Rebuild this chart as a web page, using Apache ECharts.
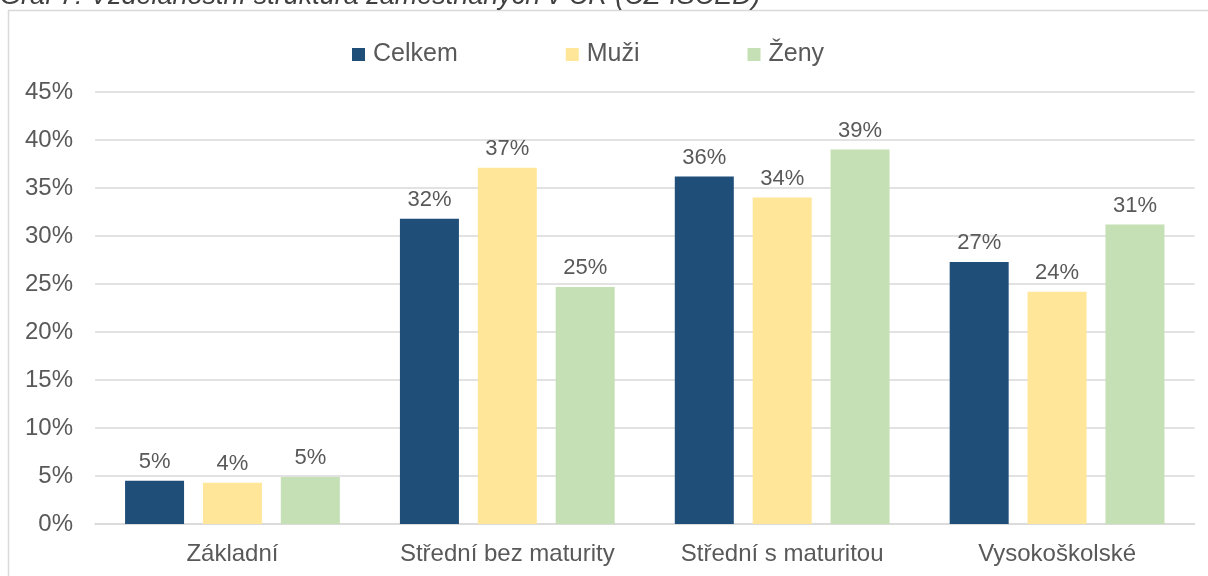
<!DOCTYPE html>
<html>
<head>
<meta charset="utf-8">
<script src="https://cdn.jsdelivr.net/npm/echarts@6/dist/echarts.min.js"></script>
<style>
  html, body { margin: 0; padding: 0; background: #fff; }
  #chart { width: 1208px; height: 576px; }
</style>
</head>
<body>
<div id="chart"></div>
<script>
// data (percent)
const categories = ['Základní', 'Střední bez maturity', 'Střední s maturitou', 'Vysokoškolské'];
const seriesNames = ['Celkem', 'Muži', 'Ženy'];
const celkem = [4.5, 31.8, 36.2, 27.3];
const muzi = [4.3, 37.1, 34.0, 24.2];
const zeny = [4.9, 24.7, 39.0, 31.2];
const yTicks = [0, 5, 10, 15, 20, 25, 30, 35, 40, 45];

const colors = ['#1f4e79', '#ffe699', '#c5e0b4'];
const textColor = '#595959';
const fontFamily = 'Liberation Sans, Arial, sans-serif';

const chart = echarts.init(document.getElementById('chart'));

const makeSeries = (name, values, color) => ({
  name: name,
  type: 'bar',
  data: values,
  barWidth: 59,
  barGap: '32%',
  itemStyle: { color: color },
  label: {
    show: true,
    position: 'top',
    distance: 8,
    color: textColor,
    fontSize: 22,
    fontFamily: fontFamily,
    formatter: p => Math.round(p.value) + '%'
  }
});

chart.setOption({
  animation: false,
  backgroundColor: '#fff',
  color: colors,
  graphic: [
    {
      type: 'rect',
      shape: { x: 8.5, y: 10.5, width: 1230, height: 600 },
      style: { fill: 'none', stroke: '#d9d9d9', lineWidth: 1.5 }
    },
    {
      type: 'text',
      left: 0,
      top: -17,
      style: {
        text: 'Graf 7: Vzdělanostní struktura zaměstnaných v ČR (CZ-ISCED)',
        fill: '#404040',
        fontSize: 27,
        fontStyle: 'italic',
        fontFamily: fontFamily
      }
    }
  ],
  legend: {
    top: 37,
    left: 347,
    itemWidth: 13,
    itemHeight: 13,
    itemGap: 108,
    icon: 'rect',
    textStyle: { color: textColor, fontSize: 25, fontFamily: fontFamily, padding: [0, 0, 0, 3] },
    data: seriesNames
  },
  grid: { left: 95, right: 13.5, top: 92, bottom: 52, containLabel: false },
  xAxis: {
    type: 'category',
    data: categories,
    axisTick: { show: false },
    axisLine: { lineStyle: { color: '#d9d9d9', width: 1.5 } },
    axisLabel: { interval: 0, hideOverlap: false, color: textColor, fontSize: 24, fontFamily: fontFamily, margin: 18 }
  },
  yAxis: {
    type: 'value',
    min: yTicks[0],
    max: yTicks[yTicks.length - 1],
    interval: 5,
    axisLine: { show: false },
    axisTick: { show: false },
    splitLine: { lineStyle: { color: '#d9d9d9', width: 1.5 } },
    axisLabel: { color: textColor, fontSize: 24, fontFamily: fontFamily, margin: 22, formatter: '{value}%' }
  },
  series: [
    makeSeries(seriesNames[0], celkem, colors[0]),
    makeSeries(seriesNames[1], muzi, colors[1]),
    makeSeries(seriesNames[2], zeny, colors[2])
  ]
});
</script>
</body>
</html>
